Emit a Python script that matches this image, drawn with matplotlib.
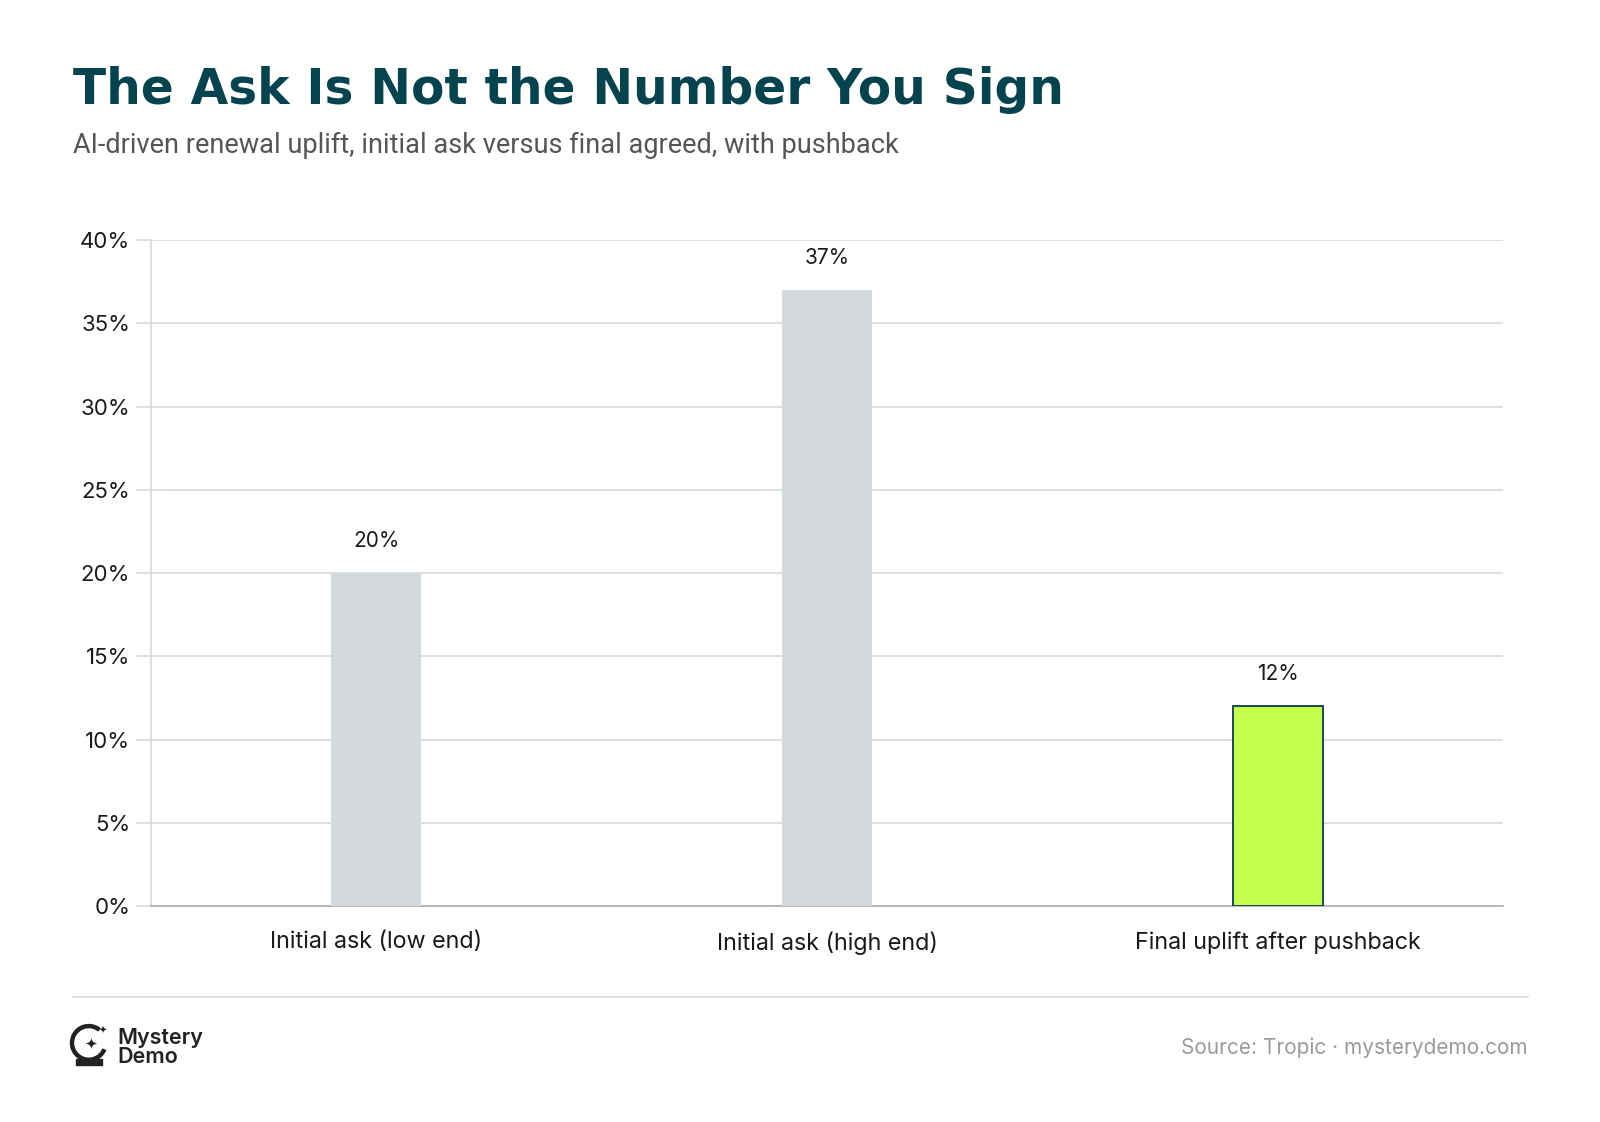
import numpy as np
import matplotlib.pyplot as plt
from matplotlib.patches import Arc, Rectangle
from matplotlib.lines import Line2D

# data
categories = ["Initial ask (low end)", "Initial ask (high end)", "Final uplift after pushback"]
uplift_pct = [20, 37, 12]
highlight = [False, False, True]

yticks = [0, 5, 10, 15, 20, 25, 30, 35, 40]

title = "The Ask Is Not the Number You Sign"
subtitle = "AI-driven renewal uplift, initial ask versus final agreed, with pushback"
source = "Source: Tropic \u00b7 mysterydemo.com"

grey_bar = "#D4D9DD"
green_bar = "#C5FF4D"
edge_col = "#0B3B52"
grid_col = "#D5D9DE"
teal = "#05444F"

plt.rcParams['font.family'] = ['Inter', 'DejaVu Sans']

fig = plt.figure(figsize=(16, 11.22), dpi=100)
fig.patch.set_facecolor("white")
ax = fig.add_axes([0.0944, 0.1925, 0.8450, 0.5935])

x = np.arange(len(categories))
colors = [green_bar if h else grey_bar for h in highlight]
edges = [edge_col if h else grey_bar for h in highlight]
bars = ax.bar(x, uplift_pct, width=0.2, color=colors, edgecolor=edges,
              linewidth=[1.3 if h else 0 for h in highlight], zorder=3)

for xi, v in zip(x, uplift_pct):
    ax.annotate(f"{v}%", (xi, v), xytext=(0, 16), textcoords="offset points",
                ha="center", va="bottom", fontsize=15, color="#1a1a1a")

ax.set_xlim(-0.5, len(categories) - 0.5)
ax.set_ylim(0, 40)
ax.set_yticks(yticks)
ax.set_yticklabels([f"{t}%" for t in yticks], fontsize=16, color="#1a1a1a")
ax.set_xticks(x)
ax.set_xticklabels(categories, fontsize=16.8, color="#1a1a1a")
ax.tick_params(axis="y", length=11, width=1.2, color=grid_col, pad=4)
ax.tick_params(axis="x", length=0, pad=18)
ax.grid(axis="y", color=grid_col, linewidth=1.2, zorder=0)
ax.set_axisbelow(True)
for s in ["top", "right"]:
    ax.spines[s].set_visible(False)
ax.spines["left"].set_color(grid_col)
ax.spines["left"].set_linewidth(1.2)
ax.spines["bottom"].set_color("#A7ADB3")
ax.spines["bottom"].set_linewidth(1.2)

# header
fig.text(0.0455, 0.920, title, fontsize=35, fontweight="heavy", color=teal,
         family=["DejaVu Sans"], va="center", ha="left")
fig.text(0.0455, 0.870, subtitle, fontsize=19.5, color="#555555", va="center", ha="left",
         family=["Roboto", "DejaVu Sans"])

# footer
fig.add_artist(Line2D([0.0455, 0.955], [0.111, 0.111], color="#D5D9DE", linewidth=1.2))
fig.text(0.955, 0.0665, source, fontsize=15, color="#9A9A9A", ha="right", va="center")

# logo
lx, ly = 0.0555, 0.0665
fig.add_artist(Arc((lx, ly + 0.004), 0.021, 0.030, theta1=60, theta2=330,
                   color="#222222", linewidth=3.2, transform=fig.transFigure))
fig.add_artist(Rectangle((lx - 0.008, ly - 0.016), 0.016, 0.006, color="#222222",
                         transform=fig.transFigure))
fig.text(lx + 0.001, ly + 0.003, "\u2726", fontsize=11, color="#222222", ha="center", va="center",
         family=["DejaVu Sans"])
fig.text(lx + 0.0085, ly + 0.015, "\u2726", fontsize=7, color="#222222", ha="center", va="center",
         family=["DejaVu Sans"])
fig.text(0.0735, 0.0665, "Mystery\nDemo", fontsize=15.5, fontweight="semibold", color="#222222",
         ha="left", va="center", linespacing=0.95)

fig.savefig("out.png", dpi=100, facecolor="white")
